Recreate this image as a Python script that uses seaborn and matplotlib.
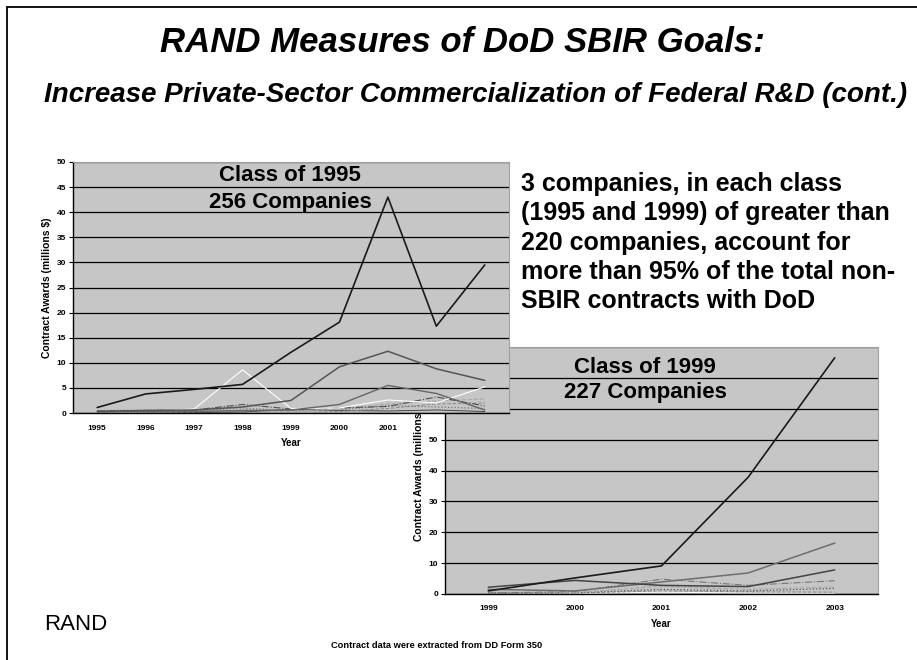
import matplotlib
matplotlib.use('Agg')
import matplotlib.pyplot as plt
import seaborn as sns
import numpy as np
from matplotlib.lines import Line2D
from matplotlib.transforms import Bbox

# ---- data: class of 1995 (contract awards, millions $) ----
years_95 = [1995, 1996, 1997, 1998, 1999, 2000, 2001, 2002, 2003]
c95_a = [1.1, 3.8, 4.7, 5.7, 12.1, 18.1, 43.0, 17.3, 29.5]
c95_b = [0.3, 0.5, 0.6, 1.2, 2.5, 9.2, 12.3, 8.8, 6.5]
c95_c = [0.2, 0.3, 0.3, 0.5, 0.6, 1.7, 5.5, 3.9, 0.6]
c95_d = [0.2, 0.3, 0.8, 8.6, 0.9, 1.0, 2.6, 2.0, 5.2]
c95_e = [0.4, 0.5, 0.6, 1.7, 0.8, 1.0, 1.3, 3.2, 1.4]
c95_f = [0.1, 0.2, 0.2, 0.6, 0.3, 0.8, 1.8, 2.4, 2.8]
c95_g = [0.5, 0.6, 0.4, 1.0, 0.4, 0.6, 1.5, 1.2, 0.9]
c95_h = [0.0, 0.1, 0.3, 0.4, 0.5, 0.3, 0.9, 1.8, 2.0]
c95_i = [0.3, 0.2, 0.1, 0.2, 0.7, 0.5, 0.4, 0.6, 0.3]

# ---- data: class of 1999 ----
years_99 = [1999, 2000, 2001, 2002, 2003]
c99_a = [1.0, 5.2, 9.1, 37.8, 76.5]
c99_b = [2.2, 4.4, 2.8, 2.4, 7.8]
c99_c = [1.5, 1.0, 3.9, 6.8, 16.5]
c99_d = [0.3, 0.8, 4.8, 2.8, 4.3]
c99_e = [0.2, 0.5, 2.5, 1.5, 2.3]
c99_f = [0.5, 0.4, 1.5, 1.0, 1.8]
c99_g = [0.1, 0.3, 1.0, 0.7, 0.6]
c99_h = [0.0, 0.2, 0.6, 0.3, 0.2]

series_95 = [c95_a, c95_b, c95_c, c95_d, c95_e, c95_f, c95_g, c95_h, c95_i]
series_99 = [c99_a, c99_b, c99_c, c99_d, c99_e, c99_f, c99_g, c99_h]

# line styles (colour, linestyle, width)
styles_95 = [('#1a1a1a', '-', 1.2), ('#555555', '-', 1.1), ('#666666', '-', 1.0),
             ('#ffffff', '-', 0.8), ('#505050', '-.', 0.8), ('#a8a8a8', '--', 0.8),
             ('#777777', ':', 0.9), ('#8a8a8a', '--', 0.7), ('#444444', '-', 0.7)]
styles_99 = [('#1a1a1a', '-', 1.2), ('#444444', '-', 1.1), ('#6e6e6e', '-', 1.1),
             ('#777777', '-.', 0.8), ('#a8a8a8', '--', 0.8), ('#555555', ':', 0.9),
             ('#8a8a8a', '--', 0.7), ('#ffffff', '-', 0.7)]

sns.set_theme(style='white')
plt.rcParams['font.family'] = ['Liberation Sans', 'DejaVu Sans']
plt.rcParams['text.color'] = 'black'
plt.rcParams['axes.labelcolor'] = 'black'
plt.rcParams['xtick.color'] = 'black'
plt.rcParams['ytick.color'] = 'black'

W, H = 917, 660
fig = plt.figure(figsize=(W / 100, H / 100), dpi=100)
fig.patch.set_facecolor('white')


def fx(px):
    return px / W


def fy(py):
    return 1 - py / H


def style_chart(ax, years, ymax, ystep):
    ax.set_facecolor('#c6c6c6')
    ax.set_xlim(years[0] - 0.5, years[-1] + 0.5)
    ax.set_ylim(0, ymax)
    ax.set_yticks(np.arange(0, ymax + 1, ystep))
    ax.set_xticks(years)
    ax.set_xticklabels([str(y) for y in years])
    ax.set_xticks(np.arange(years[0] - 0.5, years[-1] + 1, 1), minor=True)
    ax.yaxis.grid(True, color='black', lw=0.9)
    ax.xaxis.grid(False)
    ax.set_axisbelow(True)
    ax.tick_params(axis='x', which='major', length=0, pad=9, labelsize=6)
    ax.tick_params(axis='x', which='minor', length=3, width=0.8, direction='out', color='black')
    ax.tick_params(axis='y', which='major', length=3, width=0.8, direction='out',
                   labelsize=6, pad=2, color='black', left=True)
    for lab in ax.get_xticklabels() + ax.get_yticklabels():
        lab.set_fontweight('bold')
    for side in ['left', 'bottom']:
        ax.spines[side].set_color('black')
        ax.spines[side].set_linewidth(1.0)
    for side in ['top', 'right']:
        ax.spines[side].set_color('#a0a0a0')
        ax.spines[side].set_linewidth(0.8)
    ax.set_xlabel('Year', fontsize=7, fontweight='bold', labelpad=4)
    ax.set_ylabel('Contract Awards (millions $)', fontsize=7.5, fontweight='bold', labelpad=3)


# chart for class of 1999 sits underneath
ax2 = fig.add_axes([fx(445), fy(594), 433 / W, 247 / H], zorder=1)
for vals, (col, ls, lw) in zip(series_99[::-1], styles_99[::-1]):
    sns.lineplot(x=years_99, y=vals, ax=ax2, color=col, linestyle=ls, lw=lw)
style_chart(ax2, years_99, 80, 10)
ax2.tick_params(axis='x', which='major', pad=8)
ax2.set_xlabel('Year', fontsize=7, fontweight='bold', labelpad=5)

# chart for class of 1995 on top
ax1 = fig.add_axes([fx(73), fy(413), 436 / W, 251 / H], zorder=2)
for vals, (col, ls, lw) in zip(series_95[::-1], styles_95[::-1]):
    sns.lineplot(x=years_95, y=vals, ax=ax1, color=col, linestyle=ls, lw=lw)
style_chart(ax1, years_95, 50, 5)

# the 1999 chart panel hides the 1995 chart's last tick labels
clip = Bbox.from_extents(0, 0, 408, H)
for lab in ax1.get_xticklabels():
    lab.set_clip_box(clip)
    lab.set_clip_on(True)

fig.text(fx(290), fy(189), 'Class of 1995\n256 Companies', ha='center', va='center',
         fontsize=16, fontweight='bold', linespacing=1.35, zorder=5)
fig.text(fx(645), fy(380), 'Class of 1999\n227 Companies', ha='center', va='center',
         fontsize=16, fontweight='bold', linespacing=1.25, zorder=5)

fig.text(fx(462), fy(43), 'RAND Measures of DoD SBIR Goals:', ha='center', va='center',
         fontsize=25, fontweight='bold', style='italic')
fig.text(fx(476), fy(95), 'Increase Private-Sector Commercialization of Federal R&D (cont.)',
         ha='center', va='center', fontsize=20, fontweight='bold', style='italic')

fig.text(fx(521), fy(172),
         '3 companies, in each class\n(1995 and 1999) of greater than\n'
         '220 companies, account for\nmore than 95% of the total non-\n'
         'SBIR contracts with DoD',
         ha='left', va='top', fontsize=18, fontweight='bold', linespacing=1.28)

fig.text(fx(44), fy(625), 'RAND', ha='left', va='center', fontsize=16)
fig.text(fx(437), fy(645), 'Contract data were extracted from DD Form 350', ha='center',
         va='center', fontsize=6.7, fontweight='bold')

# slide frame
fig.add_artist(Line2D([fx(7), fx(7)], [0, fy(7)], transform=fig.transFigure, color='black', lw=1.3))
fig.add_artist(Line2D([fx(7), 1], [fy(7), fy(7)], transform=fig.transFigure, color='black', lw=1.3))

fig.savefig('out.png', dpi=100)
